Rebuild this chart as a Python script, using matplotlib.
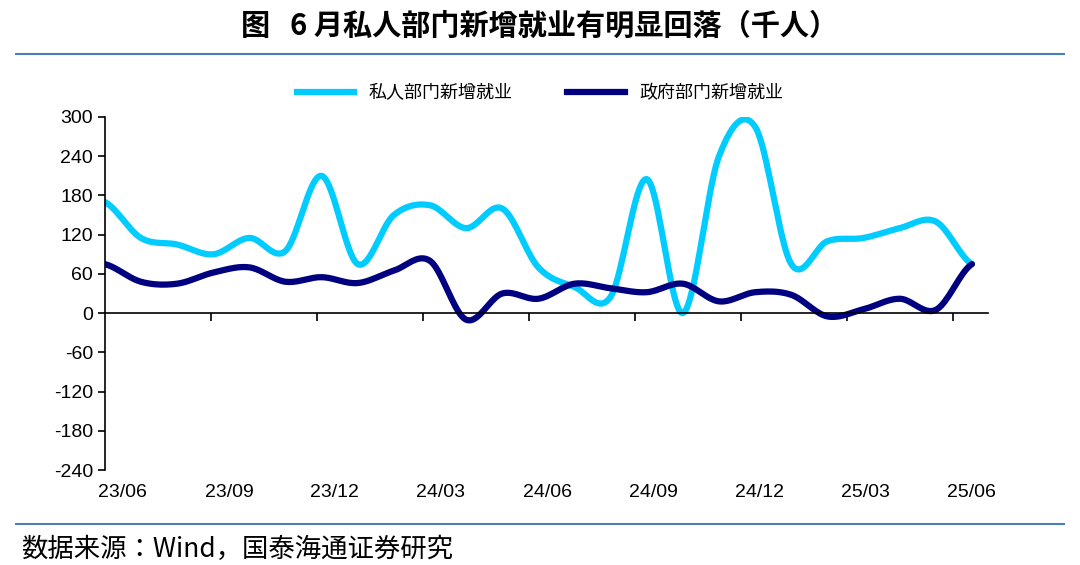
import numpy as np
import matplotlib.pyplot as plt
from matplotlib.lines import Line2D

CJK = ["Noto Sans CJK SC", "Noto Sans CJK JP", "Noto Sans CJK TC", "DejaVu Sans"]
plt.rcParams["font.family"] = ["Liberation Sans"] + CJK

# monthly, 23/06 .. 25/06
private = [170, 115, 105, 90, 115, 95, 210, 75, 150, 165, 130, 160, 70,
           40, 25, 205, 0, 240, 285, 75, 110, 115, 130, 140, 75]
government = [75, 48, 45, 62, 70, 48, 55, 46, 65, 80, -10, 30, 22,
              45, 38, 32, 45, 18, 32, 28, -5, 6, 22, 5, 75]
tick_labels = ["23/06", "23/09", "23/12", "24/03", "24/06",
               "24/09", "24/12", "25/03", "25/06"]
yticks = [300, 240, 180, 120, 60, 0, -60, -120, -180, -240]


def smooth(y, n=20):
    # catmull-rom through the points, like Excel smoothed lines
    y = np.asarray(y, float)
    p = np.concatenate([[y[0]], y, [y[-1]]])
    xs, ys = [], []
    t = np.linspace(0, 1, n, endpoint=False)
    for i in range(len(y) - 1):
        p0, p1, p2, p3 = p[i], p[i + 1], p[i + 2], p[i + 3]
        yy = 0.5 * ((2 * p1) + (-p0 + p2) * t + (2 * p0 - 5 * p1 + 4 * p2 - p3) * t ** 2
                    + (-p0 + 3 * p1 - 3 * p2 + p3) * t ** 3)
        xs.append(i + t)
        ys.append(yy)
    xs.append([len(y) - 1])
    ys.append([y[-1]])
    return np.concatenate(xs), np.concatenate(ys)


fig = plt.figure(figsize=(10.8, 5.65), dpi=100)
ax = fig.add_axes([0.097, 0.168, 0.818, 0.625])

xp, yp = smooth(private)
xg, yg = smooth(government)
ax.plot(xp, yp, color="#00CCFF", lw=4.5, solid_capstyle="round")
ax.plot(xg, yg, color="#000080", lw=4.5, solid_capstyle="round")

ax.set_ylim(-240, 300)
ax.set_xlim(0, 24.45)
ax.set_yticks(yticks)
ax.set_yticklabels([str(v) for v in yticks], fontsize=14)
ax.tick_params(axis="y", direction="out", length=5, width=1.2)
step = 2.935
ax.set_xticks([step * k for k in range(1, 9)])
ax.set_xticklabels([])
ax.tick_params(axis="x", direction="out", length=6, width=1.2)
for k, lab in enumerate(tick_labels):
    ax.text(step * k + 0.5, -262, lab, ha="center", va="top", fontsize=14)
ax.spines["top"].set_visible(False)
ax.spines["right"].set_visible(False)
ax.spines["bottom"].set_position(("data", 0))
ax.spines["left"].set_linewidth(1.2)
ax.spines["bottom"].set_linewidth(1.2)

handles = [Line2D([], [], color="#00CCFF", lw=4.5), Line2D([], [], color="#000080", lw=4.5)]
fig.legend(handles, ["私人部门新增就业", "政府部门新增就业"], loc="center",
           bbox_to_anchor=(0.5, 0.835), ncol=2, frameon=False,
           prop={"family": CJK, "size": 13}, handlelength=3.2, columnspacing=3)

fig.text(0.5, 0.955, "图   6 月私人部门新增就业有明显回落（千人）", ha="center", va="center",
         fontsize=21, fontweight="bold", family=CJK)
fig.add_artist(Line2D([0.015, 0.985], [0.905, 0.905], color="#4A7EBB", lw=1.5))
fig.add_artist(Line2D([0.015, 0.985], [0.073, 0.073], color="#4A7EBB", lw=1.5))
fig.text(0.02, 0.028, "数据来源：Wind，国泰海通证券研究", ha="left", va="center",
         fontsize=19, family=CJK)

fig.savefig("out.png", dpi=100)
